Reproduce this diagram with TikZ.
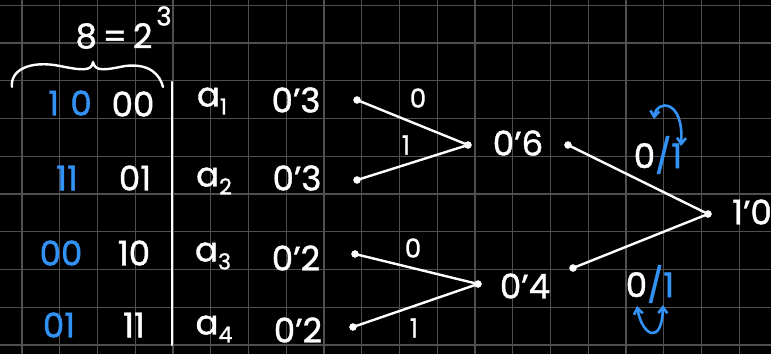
\documentclass[tikz,border=0pt]{standalone}
\usepackage{fontspec}
\setmainfont{Poppins}[FakeBold=1.2]
\usetikzlibrary{arrows.meta}
\definecolor{hblue}{HTML}{3392F5}
\definecolor{gridc}{HTML}{4F4F4F}
\tikzset{
  gridline/.style={gridc, line width=1.3pt},
  hand/.style={white, line width=2.4pt, line cap=round, line join=round},
  bhand/.style={hblue, line width=2.6pt, line cap=round, line join=round},
  txt/.style={text=white, inner sep=0pt, font=\fontsize{34}{34}\selectfont},
  btxt/.style={txt, text=hblue},
  elab/.style={txt, font=\fontsize{26}{26}\selectfont},
  dot/.style={circle, fill=white, draw=white, minimum size=7pt, inner sep=0pt},
  edge/.style={white, line width=2.4pt, line cap=round},
}
\newcommand{\sub}[1]{\raisebox{-8pt}{\fontsize{22}{22}\selectfont #1}}
\begin{document}
\begin{tikzpicture}[x=1pt,y=-1pt]
\fill[black] (0,0) rectangle (771,354);
\useasboundingbox (0,0) rectangle (771,354);
% grid
\foreach \i in {0,...,19} \draw[gridline] ({22+37.75*\i},0) -- ({22+37.75*\i},354);
\foreach \j in {0,...,9} \draw[gridline] (0,{5.25+37.75*\j}) -- (771,{5.25+37.75*\j});

% title 8 = 2^3
\node[txt] (eq) at (114,36) {8\,=\,2};
\node[txt, font=\fontsize{26}{26}\selectfont] (ex) at (164,16) {3};
% brace
\draw[hand] (12,87) .. controls (10,70) and (30,60) .. (60,66) .. controls (80,70) and (92,72) .. (93,62)
            .. controls (95,72) and (105,70) .. (125,66) .. controls (150,63) and (160,75) .. (163,87);

% left table
\node[btxt] (b1) at (70,103) {1\,\,0};
\node[btxt] (b2) at (67,178) {11};
\node[btxt] (b3) at (61,253) {00};
\node[btxt] (b4) at (59,325) {01};
\node[txt] (w1) at (133,104) {00};
\node[txt] (w2) at (135,178) {01};
\node[txt] (w3) at (134,253) {10};
\node[txt] (w4) at (134,325) {11};
\coordinate (vt) at (172,82);
\coordinate (vb) at (172,345);
\draw[hand] (vt) -- (vb);
\node[txt] (s1) at (212,101) {a\sub{1}};
\node[txt] (s2) at (214,181) {a\sub{2}};
\node[txt] (s3) at (213,256) {a\sub{3}};
\node[txt] (s4) at (214,329) {a\sub{4}};
\node[txt] (p1) at (296,100) {0'3};
\node[txt] (p2) at (297,178) {0'3};
\node[txt] (p3) at (296,258) {0'2};
\node[txt] (p4) at (298,330) {0'2};

% first level
\node[dot] (a1) at (357,100) {};
\node[dot] (a2) at (357,180) {};
\node[dot] (a3) at (355,254) {};
\node[dot] (a4) at (353,327) {};
\node[dot] (m1) at (468,145) {};
\node[dot] (m2) at (478,284) {};
\draw[edge] (a1) -- (m1);
\draw[edge] (a2) -- (m1);
\draw[edge] (a3) -- (m2);
\draw[edge] (a4) -- (m2);
\node[elab] (l1) at (418,98) {0};
\node[elab] (l2) at (406,145) {1};
\node[elab] (l3) at (413,248) {0};
\node[elab] (l4) at (414,328) {1};
\node[txt] (q1) at (518,143) {0'6};
\node[txt] (q2) at (525,286) {0'4};

% second level
\node[dot] (c1) at (568,145) {};
\node[dot] (c2) at (573,268) {};
\node[dot] (r) at (708,214) {};
\draw[edge] (c1) -- (r);
\draw[edge] (c2) -- (r);
\node[txt] (rl) at (752,212) {1'0};
\node[txt] (t1) at (658,155) {0\textcolor{hblue}{/1}};
\node[txt] (t2) at (650,284) {0\textcolor{hblue}{/1}};
% swap arrows
\draw[bhand, {Straight Barb[length=6pt,width=9pt]}-{Straight Barb[length=6pt,width=9pt]}]
  (654,119) .. controls (656,100) and (684,98) .. (681,146);
\draw[bhand, {Straight Barb[length=6pt,width=9pt]}-{Straight Barb[length=6pt,width=9pt]}]
  (637,306) .. controls (642,336) and (662,346) .. (663,305);
\end{tikzpicture}
\end{document}
